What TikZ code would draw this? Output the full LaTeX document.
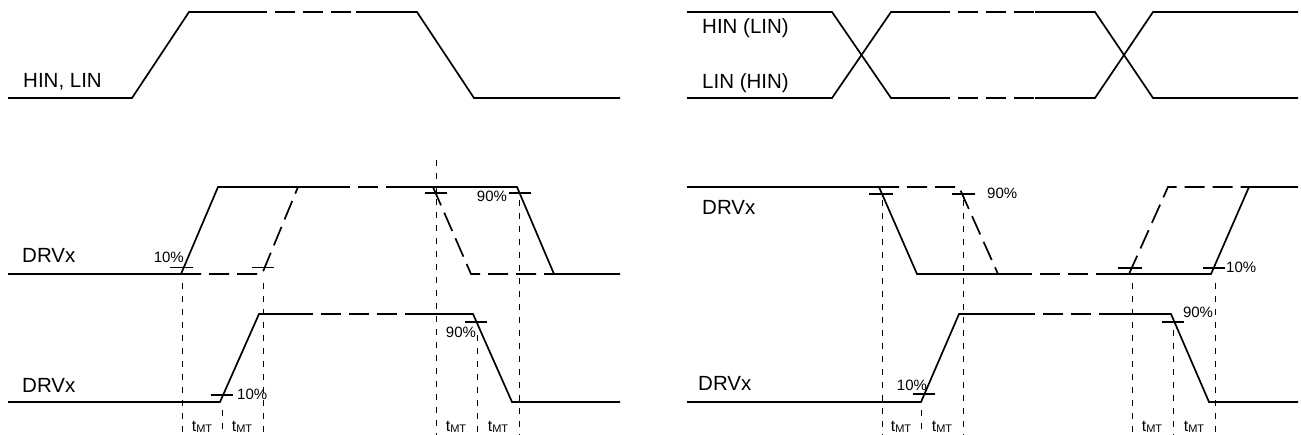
\documentclass[tikz,border=0pt]{standalone}
\usepackage{fontspec}
\setmainfont{Liberation Sans}
\newcommand{\tmtlabel}{t\raisebox{-0.5pt}{\fontsize{11}{13}\selectfont MT}}
\begin{document}
\begin{tikzpicture}[x=1pt,y=-1pt,
  sig/.style={line width=1.7pt, line join=miter},
  dsig/.style={sig, dash pattern=on 20pt off 8pt},
  vguide/.style={line width=0.9pt, dash pattern=on 6pt off 7pt},
  tickmark/.style={line width=1.4pt},
  lbl/.style={font=\fontsize{20.5}{24}\selectfont, inner sep=0pt, anchor=west},
  pct/.style={font=\fontsize{15}{18}\selectfont, inner sep=0pt},
  tmt/.style={font=\fontsize{16}{18}\selectfont, inner sep=0pt}]
\useasboundingbox (0,0) rectangle (1301,435);
% ================= LEFT PANEL =================
% top input
\draw[sig] (8,98) -- (132,98) -- (189,12) -- (247,12);
\draw[dsig] (247,12) -- (356,12);
\draw[sig] (356,12) -- (417,12) -- (474,98) -- (620,98);
\node[lbl] (hinlin) at (23,82) {HIN, LIN};
% middle DRVx
\draw[sig] (8,274) -- (181,274) -- (218,187) -- (330,187);
\draw[dsig] (330,187) -- (395,187);
\draw[sig] (395,187) -- (517,187) -- (554,274) -- (620,274);
\draw[dsig] (181,274) -- (262,274) -- (298,187);
\draw[dsig] (433,187) -- (471,274) -- (554,274);
\node[lbl] (drvA) at (22,255) {DRVx};
\draw[tickmark] (170,267.5) -- (193,267.5);
\draw[tickmark] (252,267.5) -- (274,267.5);
\draw[tickmark] (425,193) -- (447,193);
\draw[tickmark] (509,193) -- (531,193);
\node[pct,anchor=east] (pA1) at (184,257) {10\%};
\node[pct] (pA2) at (492,196) {90\%};
% bottom DRVx
\draw[sig] (8,402) -- (220,402) -- (259,314) -- (293,314);
\draw[dsig] (293,314) -- (415,314);
\draw[sig] (415,314) -- (473,314) -- (512,402) -- (620,402);
\node[lbl] (drvB) at (22,385) {DRVx};
\draw[tickmark] (211,395) -- (233,395);
\draw[tickmark] (465,322) -- (487,322);
\node[pct,anchor=west] (pB1) at (237,394) {10\%};
\node[pct] (pB2) at (461,332) {90\%};
% guides
\draw[vguide] (182,283) -- (182,435);
\draw[vguide] (263,283) -- (263,435);
\draw[vguide] (222,410) -- (222,435);
\draw[vguide] (436,160) -- (436,435);
\draw[vguide] (477,335) -- (477,435);
\draw[vguide] (519,200) -- (519,435);
\node[tmt] (t1) at (202,427) {\tmtlabel};
\node[tmt] (t2) at (242,427) {\tmtlabel};
\node[tmt] (t3) at (456,427) {\tmtlabel};
\node[tmt] (t4) at (498,427) {\tmtlabel};
% ================= RIGHT PANEL =================
% top inputs
\draw[sig] (687,12) -- (832,12) -- (891,98) -- (930,98);
\draw[dsig] (930,98) -- (1035,98);
\draw[sig] (1035,98) -- (1095,98) -- (1153,12) -- (1298,12);
\draw[sig] (687,98) -- (832,98) -- (891,12) -- (930,12);
\draw[dsig] (930,12) -- (1035,12);
\draw[sig] (1035,12) -- (1095,12) -- (1153,98) -- (1298,98);
\node[lbl] (hinR) at (702,28) {HIN (LIN)};
\node[lbl] (linR) at (702,83) {LIN (HIN)};
% middle DRVx
\draw[sig] (687,187) -- (879,187) -- (917,274) -- (1012,274);
\draw[dsig] (1012,274) -- (1110,274);
\draw[sig] (1110,274) -- (1211,274) -- (1249,187) -- (1298,187);
\draw[dsig] (879,187) -- (959,187) -- (998,274);
\draw[dsig] (1129,274) -- (1168,187) -- (1249,187);
\node[lbl] (drvC) at (702,207) {DRVx};
\draw[tickmark] (869,194) -- (893,194);
\draw[tickmark] (952,194) -- (975,194);
\draw[tickmark] (1118,268) -- (1142,268);
\draw[tickmark] (1203,268) -- (1225,268);
\node[pct,anchor=west] (pC1) at (987,193) {90\%};
\node[pct,anchor=west] (pC2) at (1226,267) {10\%};
% bottom DRVx
\draw[sig] (687,402) -- (921,402) -- (959,314) -- (1015,314);
\draw[dsig] (1015,314) -- (1113,314);
\draw[sig] (1113,314) -- (1171,314) -- (1209,402) -- (1298,402);
\node[lbl] (drvD) at (698,383) {DRVx};
\draw[tickmark] (913,394) -- (935,394);
\draw[tickmark] (1162,322) -- (1184,322);
\node[pct] (pD1) at (912,385) {10\%};
\node[pct] (pD2) at (1198,312) {90\%};
% guides
\draw[vguide] (882,200) -- (882,435);
\draw[vguide] (963,200) -- (963,435);
\draw[vguide] (1132,283) -- (1132,435);
\draw[vguide] (1215,283) -- (1215,435);
\draw[vguide] (921,410) -- (921,435);
\draw[vguide] (1173,330) -- (1173,435);
\node[tmt] (t5) at (901,427) {\tmtlabel};
\node[tmt] (t6) at (942,427) {\tmtlabel};
\node[tmt] (t7) at (1152,427) {\tmtlabel};
\node[tmt] (t8) at (1194,427) {\tmtlabel};
\end{tikzpicture}
\end{document}
